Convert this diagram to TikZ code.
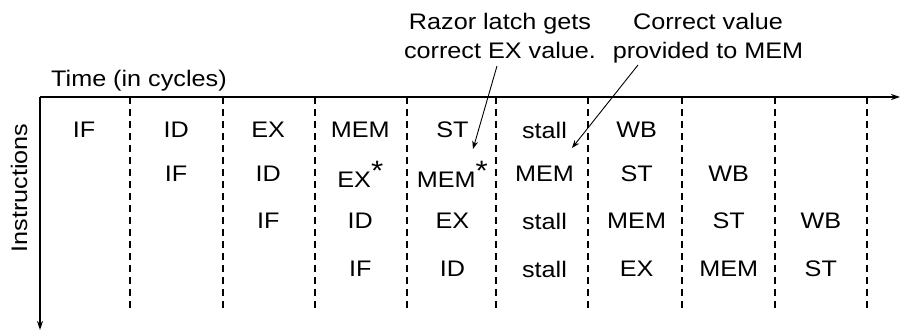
\documentclass[tikz,border=0pt]{standalone}
\usepackage{fontspec}
\setmainfont{Liberation Sans}[FakeStretch=1.12]
\usetikzlibrary{arrows.meta,positioning}
\tikzset{>=Stealth,
  every node/.style={font=\fontsize{22.5}{26}\selectfont,inner sep=1pt},
  axis/.style={->,line width=1.3pt,>={Stealth[length=9pt,width=6pt]}},
  sep/.style={dash pattern=on 7pt off 5pt,line width=1.1pt},
  note/.style={->,line width=.9pt,>={Stealth[length=8pt,width=6pt]}},
  remark/.style={align=center,font=\fontsize{22.5}{29}\selectfont}}
\newcommand{\starred}[1]{#1\raisebox{.3em}{\fontsize{28}{28}\selectfont*}}

\begin{document}
\begin{tikzpicture}[x=1pt,y=-1pt]
\useasboundingbox (0,0) rectangle (902,334);
% axes
\coordinate (orig) at (40,97);
\coordinate (tend) at (900,97);
\coordinate (iend) at (40,330);
\draw[axis] (orig)--(tend);
\draw[axis] (orig)--(iend);
\foreach \x in {130,223,315,407,496,588,682,775,867}
  \draw[sep] (\x,97)--(\x,308);
\node (time) [anchor=base west] at (50,87) {Time (in cycles)};
\node (instr) [rotate=90] at (19,188) {Instructions};
% pipeline stages, one row per instruction
\foreach \s [count=\c] in {IF,ID,EX,MEM,ST,stall,WB}
  \node (a\c) at ({84+92.1*(\c-1)},130) {\s};
\foreach \s [count=\c from 2] in {IF,ID,\starred{EX},\starred{MEM},MEM,ST,WB}
  \node (b\c) at ({84+92.1*(\c-1)},174) {\s};
\foreach \s [count=\c from 3] in {IF,ID,EX,stall,MEM,ST,WB}
  \node (c\c) at ({84+92.1*(\c-1)},221) {\s};
\foreach \s [count=\c from 4] in {IF,ID,stall,EX,MEM,ST}
  \node (d\c) at ({84+92.1*(\c-1)},269) {\s};
% annotations
\node (razor) [remark] at (500,36) {Razor latch gets\\correct EX value.};
\node (fixed) [remark] at (708,38) {Correct value\\provided to MEM};
\coordinate (razorfoot) at (497,66);
\coordinate (razorhit) at (473,149);
\coordinate (fixedfoot) at (638,65);
\coordinate (fixedhit) at (572,148);
\draw[note] (razorfoot)--(razorhit);
\draw[note] (fixedfoot)--(fixedhit);
\end{tikzpicture}
\end{document}
